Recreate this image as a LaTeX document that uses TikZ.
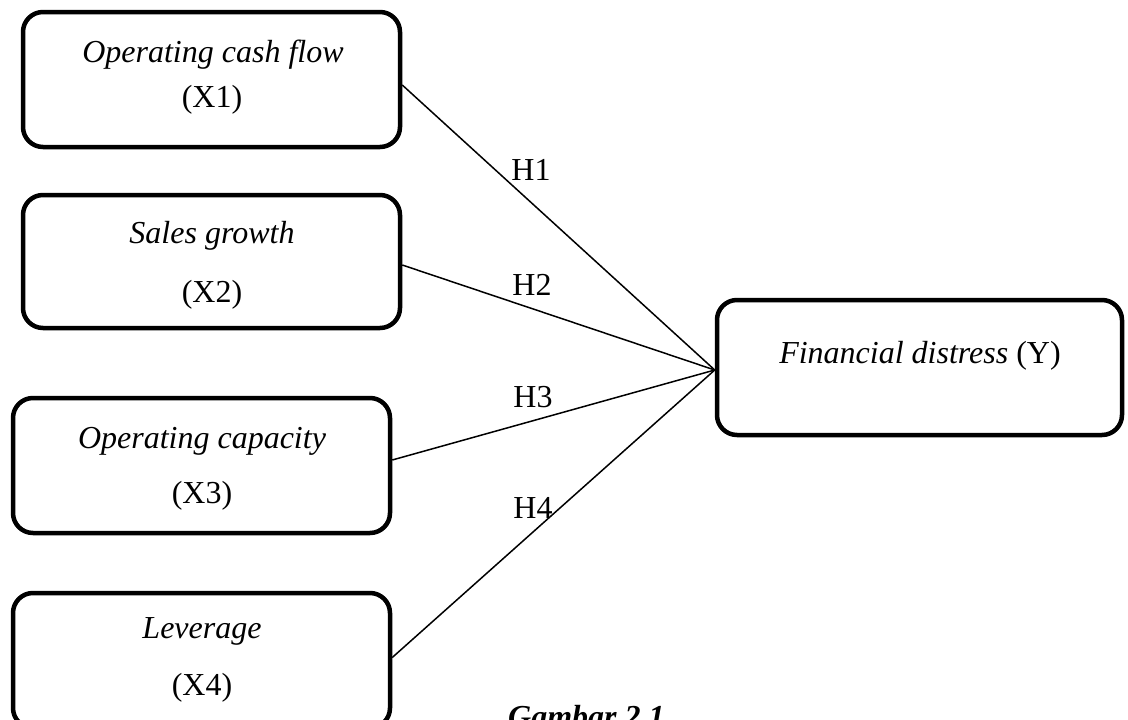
\documentclass[tikz,border=0pt]{standalone}
\usepackage{fontspec}
\setmainfont{Liberation Serif}
\usepackage{tikz}
\usetikzlibrary{calc}
\tikzset{
    varbox/.style={draw, line width=4.5pt, rounded corners=20pt, minimum width=377pt, minimum height=135pt},
    txt/.style={inner sep=0pt, anchor=base, font=\fontsize{32}{38}\selectfont}
}

\begin{document}
\begin{tikzpicture}[x=1pt, y=-1pt]
        \useasboundingbox (0,0) rectangle (1128,720);
        %KOTAK VARIABEL
        \node[varbox] (x1) at (211.5,79.5) {};
        \node[varbox, minimum height=133pt] (x2) at (211.5,261.5) {};
        \node[varbox] (x3) at (201.5,465.5) {};
        \node[varbox] (x4) at (201.5,660.5) {};
        \node[varbox, minimum width=405pt] (fd) at (919.5,367.5) {};
        %TEKS
        \node[txt] (x1a) at (213,62) {\itshape Operating cash flow};
        \node[txt] (x1b) at (212,107) {(X1)};
        \node[txt] (x2a) at (212,243) {\itshape Sales growth};
        \node[txt] (x2b) at (212,302) {(X2)};
        \node[txt] (x3a) at (202,448) {\itshape Operating capacity};
        \node[txt] (x3b) at (202,503) {(X3)};
        \node[txt] (x4a) at (202,638) {\itshape Leverage};
        \node[txt] (x4b) at (202,695) {(X4)};
        \node[txt] (fdt) at (920,363) {\itshape Financial distress \upshape(Y)};
        %GARIS HIPOTESIS
        \coordinate (hub) at ([yshift=-2.5pt]fd.west);
        \draw[line width=1.5pt] ([yshift=-5.5pt]x1.east) -- (hub);
        \draw[line width=1.5pt] ([yshift=-3.5pt]x2.east) -- (hub);
        \draw[line width=1.5pt] ([yshift=5.5pt]x3.east) -- (hub);
        \draw[line width=1.5pt] ([yshift=3pt]x4.east) -- (hub);
        \node[txt] (h1) at (531,180) {H1};
        \node[txt] (h2) at (532,295) {H2};
        \node[txt] (h3) at (533,407) {H3};
        \node[txt] (h4) at (533,518) {H4};
        %JUDUL
        \node[txt, anchor=base west] (judul) at (508,727) {\bfseries\itshape Gambar 2.1};
    \end{tikzpicture}
\end{document}
